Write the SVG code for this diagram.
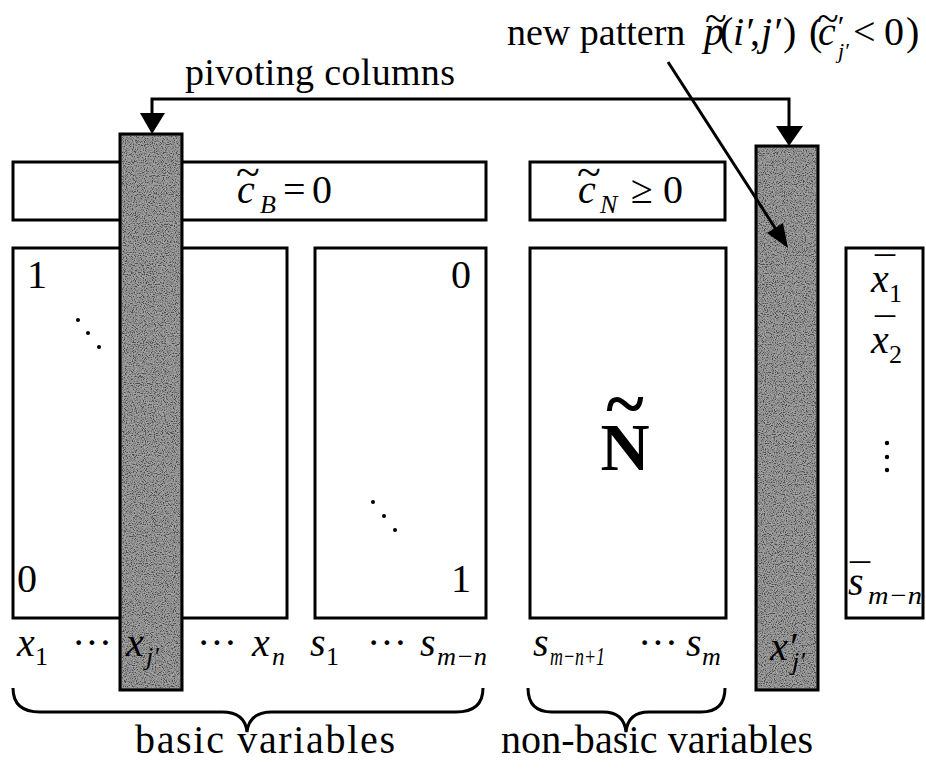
<svg xmlns="http://www.w3.org/2000/svg" width="926" height="769" viewBox="0 0 926 769">
<defs>
<filter id="grain" x="0" y="0" width="1" height="1" filterUnits="objectBoundingBox">
<feTurbulence type="fractalNoise" baseFrequency="0.9" numOctaves="2" seed="7" result="n"/>
<feColorMatrix in="n" type="matrix" values="3 0 0 0 -1  3 0 0 0 -1  3 0 0 0 -1  0 0 0 0 1"/>
</filter>
</defs>
<style>
.t{font-family:"Liberation Serif","Times New Roman",serif;font-size:38px;fill:#000}
.u{font-family:"Liberation Serif","Times New Roman",serif;font-size:40px;fill:#000}
.m{font-family:"Liberation Serif","Times New Roman",serif;font-style:italic;font-size:40px;fill:#000}
.s{font-family:"Liberation Serif","Times New Roman",serif;font-size:26px;fill:#000}
.si{font-family:"Liberation Serif","Times New Roman",serif;font-style:italic;font-size:26px;fill:#000}
.tl{font-family:"Liberation Serif","Times New Roman",serif;font-size:44px;fill:#000}
.box{fill:#fff;stroke:#000;stroke-width:3}
.col{fill:#777;stroke:#000;stroke-width:3}
.grain{filter:url(#grain);opacity:0.35}
.ln{fill:none;stroke:#000;stroke-width:3}
.ah{fill:#000;stroke:none}
</style>
<rect width="926" height="769" fill="#fff"/>

<g id="cost-basic">
<rect class="box" x="13" y="162" width="473" height="58"/>
<text class="tl" x="236" y="187">~</text>
<text class="m" x="237" y="203">c</text>
<text class="si" x="260" y="213">B</text>
<text class="u" x="283" y="203">=</text>
<text class="u" x="312" y="203">0</text>
</g>

<g id="cost-nonbasic">
<rect class="box" x="530" y="162" width="195" height="58"/>
<text class="tl" x="577" y="187">~</text>
<text class="m" x="578" y="203">c</text>
<text class="si" x="600" y="213">N</text>
<text class="u" x="631" y="203">≥</text>
<text class="u" x="663" y="203">0</text>
</g>

<g id="matrix-basic-x">
<rect class="box" x="13" y="248" width="274" height="370"/>
<text class="u" x="27" y="288">1</text>
<circle cx="78" cy="320" r="2"/><circle cx="88" cy="333" r="2"/><circle cx="99" cy="347" r="2"/>
<text class="u" x="17" y="592">0</text>
</g>

<g id="matrix-basic-s">
<rect class="box" x="315" y="248" width="171" height="370"/>
<text class="u" x="451" y="288">0</text>
<circle cx="373" cy="502" r="2"/><circle cx="384" cy="516" r="2"/><circle cx="395" cy="530" r="2"/>
<text class="u" x="451" y="592">1</text>
</g>

<g id="matrix-nonbasic">
<rect class="box" x="530" y="248" width="196" height="370"/>
<text class="u" x="625" y="428" text-anchor="middle" style="font-size:72px;font-weight:bold">~</text>
<text class="u" x="625" y="470" text-anchor="middle" style="font-size:68px;font-weight:bold">N</text>
</g>

<g id="rhs">
<rect class="box" x="846" y="248" width="77" height="370"/>
<text class="u" x="875" y="285">¯</text>
<text class="m" x="871" y="292">x</text>
<text class="s" x="889" y="302">1</text>
<text class="u" x="875" y="346">¯</text>
<text class="m" x="871" y="353">x</text>
<text class="s" x="889" y="363">2</text>
<circle cx="887" cy="443" r="2.2"/><circle cx="887" cy="457" r="2.2"/><circle cx="887" cy="470" r="2.2"/>
<text class="u" x="850" y="592">¯</text>
<text class="m" x="848" y="595">s</text>
<text class="si" x="868" y="604" textLength="54" lengthAdjust="spacingAndGlyphs">m−n</text>
</g>

<g id="pivot-column-in">
<rect class="col" x="120" y="134" width="62" height="556"/>
<rect class="grain" x="122" y="136" width="58" height="552"/>
<text class="m" x="126" y="656" fill="#1a1a1a">x</text>
<text class="si" x="146" y="665" fill="#1a1a1a">j′</text>
</g>

<g id="pivot-column-out">
<rect class="col" x="756" y="146" width="62" height="544"/>
<rect class="grain" x="758" y="148" width="58" height="540"/>
<text class="m" x="770" y="660" fill="#1a1a1a">x′</text>
<text class="si" x="792" y="670" fill="#1a1a1a">j′</text>
</g>

<g id="labels">
<text class="m" x="17" y="656">x</text><text class="s" x="35" y="665">1</text>
<text class="u" x="72" y="656">···</text>
<text class="u" x="197" y="656">···</text>
<text class="m" x="252" y="656">x</text><text class="si" x="272" y="665">n</text>
<text class="m" x="310" y="656">s</text><text class="s" x="326" y="665">1</text>
<text class="u" x="367" y="656">···</text>
<text class="m" x="420" y="656">s</text><text class="si" x="437" y="665" textLength="50" lengthAdjust="spacingAndGlyphs">m−n</text>
<text class="m" x="533" y="656">s</text><text class="si" x="550" y="665" textLength="55" lengthAdjust="spacingAndGlyphs">m−n+1</text>
<text class="u" x="638" y="656">···</text>
<text class="m" x="686" y="656">s</text><text class="si" x="702" y="665">m</text>
</g>

<g id="connectors">
<path class="ln" d="M152,115 V99 H789 V128"/>
<polygon class="ah" points="140,113 165,113 152,134"/>
<polygon class="ah" points="776,126 803,126 789,146"/>
<line class="ln" x1="668" y1="62" x2="777" y2="231"/>
<polygon class="ah" points="788,248 767,233 783,223"/>
</g>

<g id="brace-basic">
<path class="ln" d="M13,688 Q13,712 40,712 H222 Q245,712 247,732 Q249,712 272,712 H456 Q483,712 483,688"/>
<text class="u" x="135" y="753" textLength="260" lengthAdjust="spacing">basic variables</text>
</g>

<g id="brace-nonbasic">
<path class="ln" d="M528,688 Q528,712 552,712 H603 Q624,712 626,732 Q628,712 649,712 H701 Q725,712 725,688"/>
<text class="u" x="501" y="753" textLength="312" lengthAdjust="spacing">non-basic variables</text>
</g>

<g id="title-pivot">
<text class="t" x="185" y="85" textLength="270" lengthAdjust="spacing">pivoting columns</text>
</g>

<g id="title-pattern">
<text class="t" x="507" y="45">new pattern</text>
<text class="u" x="705" y="32">~</text>
<text class="m" x="704" y="45">p</text>
<text class="u" x="720" y="45">(</text>
<text class="m" x="733" y="45">i′</text>
<text class="u" x="750" y="45">,</text>
<text class="m" x="761" y="45">j′</text>
<text class="u" x="783" y="45">)</text>
<text class="u" x="809" y="45">(</text>
<text class="u" x="817" y="32">~</text>
<text class="m" x="818" y="45">c</text>
<text class="si" x="836" y="36" style="font-size:30px">′</text>
<text class="si" x="838" y="58" style="font-size:22px">j′</text>
<text class="u" x="853" y="45">&lt;</text>
<text class="u" x="884" y="45">0</text>
<text class="u" x="906" y="45">)</text>
</g>
</svg>
